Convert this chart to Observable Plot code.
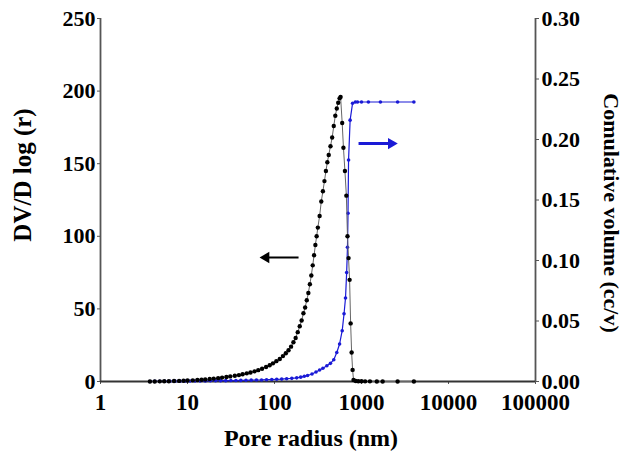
<!DOCTYPE html>
<html>
<head>
<meta charset="utf-8">
<script src="https://cdn.jsdelivr.net/npm/d3@7"></script>
<script src="https://cdn.jsdelivr.net/npm/@observablehq/plot@0.6"></script>
<style>
  html, body { margin: 0; padding: 0; background: #fff; }
</style>
</head>
<body>
<div id="chart"></div>
<script>
// Pore radius (nm) and DV/D log(r) — black series
const rDist = [3.7, 4.2, 4.8, 5.4, 6.1, 7, 8, 9, 10, 11.5, 13, 14.5, 16, 18, 20, 22.5, 25, 28, 31, 35, 39, 43, 48, 53, 59, 65, 72, 80, 88, 96, 105, 115, 125, 135, 145, 155, 165, 175, 185, 195, 205, 215, 225, 235, 245, 255, 265, 275, 285, 295, 305, 315, 330, 345, 360, 375, 390, 405, 420, 440, 460, 480, 500, 520, 540, 560, 575, 600, 620, 645, 670, 690, 710, 730, 750, 770, 790, 810, 860, 920, 1000, 1100, 1250, 1500, 1750, 2600, 4000];
const vDist = [0, 0.05, 0.1, 0.15, 0.2, 0.3, 0.4, 0.5, 0.7, 0.8, 1.0, 1.2, 1.4, 1.7, 2.0, 2.3, 2.7, 3.1, 3.5, 4.0, 4.4, 5.0, 5.6, 6.2, 7.0, 7.8, 8.8, 10, 11.2, 12.5, 14, 15.5, 17.5, 19.5, 21.5, 24, 27, 30, 34, 38, 42, 47, 51, 56, 61, 67, 73, 80, 87, 94, 100, 106, 114, 124, 131, 138, 145, 151, 156, 162, 168, 176, 183, 188, 192, 195, 196, 178, 161, 145, 128, 100, 85, 70, 40, 20, 8, 1, 0.3, 0.2, 0.2, 0.1, 0.1, 0, 0, 0, 0];

// Pore radius (nm) and cumulative volume (cc/v) — blue series
const rCum = [3.7, 4.2, 4.8, 5.5, 6.3, 7.2, 8.2, 9.4, 10.7, 12.2, 14, 16, 18.3, 21, 24, 27.5, 31.5, 36, 41, 47, 54, 62, 71, 81, 93, 106, 121, 138, 158, 180, 200, 220, 240, 270, 300, 330, 360, 400, 440, 480, 520, 560, 600, 630, 655, 675, 690, 700, 710, 740, 790, 850, 900, 1000, 1200, 1650, 2600, 4000];
const vCum = [0, 0.0001, 0.0001, 0.0002, 0.0002, 0.0003, 0.0003, 0.0004, 0.0004, 0.0004, 0.0005, 0.0005, 0.0006, 0.0006, 0.0007, 0.0007, 0.0008, 0.0008, 0.0009, 0.001, 0.0011, 0.0012, 0.0013, 0.0015, 0.0016, 0.0018, 0.002, 0.0023, 0.0026, 0.003, 0.0036, 0.0043, 0.005, 0.0062, 0.0078, 0.0095, 0.011, 0.013, 0.015, 0.018, 0.024, 0.031, 0.042, 0.056, 0.069, 0.09, 0.111, 0.139, 0.183, 0.216, 0.230, 0.231, 0.231, 0.231, 0.231, 0.231, 0.231, 0.231];

// Tick labels
const xTicks = [1, 10, 100, 1000, 10000, 100000];
const leftTicks = [0, 50, 100, 150, 200, 250];
const rightTicks = [0, 0.05, 0.10, 0.15, 0.20, 0.25, 0.30];

// Annotation arrows: from r, to r (head), value, axis
const arrowFrom = [189, 925];
const arrowTo = [80, 2200];
const arrowVal = [85.4, 0.1966];
const arrowAxis = ["left", "right"];

const leftMax = 250, rightMax = 0.30;
const k = leftMax / rightMax;

const dist = rDist.map((r, i) => ({r, v: vDist[i]}));
const cum = rCum.map((r, i) => ({r, v: vCum[i] * k}));
const arrows = arrowFrom.map((a, i) => ({
  x1: a, x2: arrowTo[i],
  y: arrowAxis[i] === "left" ? arrowVal[i] : arrowVal[i] * k,
  c: arrowAxis[i] === "left" ? "#000000" : "#1a1ad6",
  w: arrowAxis[i] === "left" ? 2.2 : 3,
  rot: arrowTo[i] > a ? 90 : -90
}));

const font = '"Liberation Serif", "Times New Roman", serif';
const axisColor = "#555";
const blue = "#1a1ad6";

const chart = Plot.plot({
  width: 624,
  height: 455,
  marginLeft: 100,
  marginRight: 89,
  marginTop: 18,
  marginBottom: 74,
  style: {fontFamily: font, fontSize: "22px", fontWeight: "bold", color: "#000", background: "#fff"},
  x: {type: "log", domain: [1, 100000]},
  y: {domain: [0, leftMax]},
  marks: [
    Plot.axisX({ticks: xTicks, tickFormat: d => String(d), tickSize: 3, tickPadding: 9, stroke: axisColor, fontSize: 23, label: null}),
    Plot.axisY({ticks: leftTicks, tickFormat: d => String(d), tickSize: 3, tickPadding: 2, stroke: axisColor, label: null}),
    Plot.axisY({anchor: "right", ticks: rightTicks.map(t => t * k), tickFormat: d => (d / k).toFixed(2), tickSize: 3, tickPadding: 3, stroke: axisColor, label: null}),
    Plot.ruleX([1], {stroke: axisColor, strokeWidth: 1.8}),
    Plot.ruleX([100000], {stroke: axisColor, strokeWidth: 1.8}),
    Plot.ruleY([0], {stroke: "#333", strokeWidth: 1.8}),
    Plot.line(cum, {x: "r", y: "v", stroke: blue, strokeWidth: 1.2}),
    Plot.dot(cum, {x: "r", y: "v", r: 1.8, fill: blue, stroke: null}),
    Plot.line(dist, {x: "r", y: "v", stroke: "#666", strokeWidth: 1}),
    Plot.dot(dist, {x: "r", y: "v", r: 2.2, fill: "#000", stroke: null}),
    Plot.link(arrows, {x1: "x1", x2: "x2", y1: "y", y2: "y", stroke: "c", strokeWidth: "w"}),
    Plot.dot(arrows, {x: "x2", y: "y", symbol: "triangle", rotate: "rot", r: 4.2, fill: "c", stroke: null}),
    Plot.text(["Pore radius (nm)"], {frameAnchor: "bottom", textAnchor: "middle", dx: -7, dy: 64, fontSize: 24, fontWeight: "bold", fill: "#000"}),
    Plot.text(["DV/D log (r)"], {frameAnchor: "left", textAnchor: "middle", dx: -78, dy: -25, rotate: -90, fontSize: 25, fontWeight: "bold", fill: "#000"}),
    Plot.text(["Comulative volume (cc/v)"], {frameAnchor: "right", textAnchor: "middle", dx: 76, dy: 13, rotate: 90, fontSize: 22, fontWeight: "bold", fill: "#000"})
  ]
});
document.getElementById("chart").appendChild(chart);
</script>
</body>
</html>
